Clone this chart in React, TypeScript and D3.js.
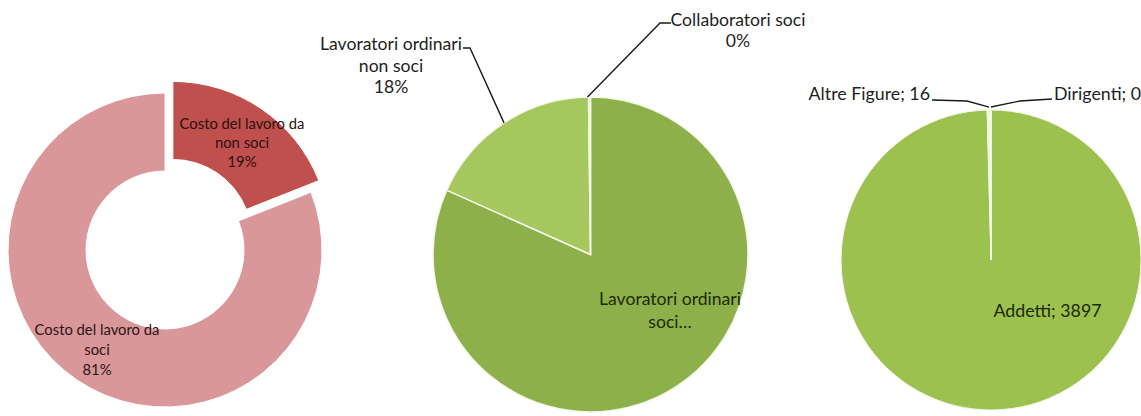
import React from "react";
import * as d3 from "d3";

// ---- Data ----
const costCategories = ["Costo del lavoro da non soci", "Costo del lavoro da soci"];
const costValues = [19, 81];
const costLabelLines = [["Costo del lavoro da", "non soci"], ["Costo del lavoro da", "soci"]];

const workerCategories = ["Lavoratori ordinari soci", "Lavoratori ordinari non soci", "Collaboratori soci"];
const workerValues = [81.7, 18.1, 0.2];
const workerLabelLines = [["Lavoratori ordinari", "soci…"], ["Lavoratori ordinari", "non soci"], ["Collaboratori soci"]];

const staffCategories = ["Addetti", "Altre Figure", "Dirigenti"];
const staffValues = [3897, 16, 0];

const FONT = "Lato, 'Open Sans', sans-serif";
const TXT = "#1e1e1e";

type Slice = d3.PieArcDatum<number>;

function pct(values: number[], i: number) {
  const tot = d3.sum(values);
  return Math.round((values[i] / tot) * 100) + "%";
}

function Lines({ x, y, lines, size, gap, fill = TXT, anchor = "middle" }: any) {
  return (
    <text x={x} y={y} fontFamily={FONT} fontSize={size} fill={fill} textAnchor={anchor}>
      {lines.map((l: string, i: number) => (
        <tspan key={i} x={x} dy={i === 0 ? 0 : gap}>
          {l}
        </tspan>
      ))}
    </text>
  );
}

export default function App() {
  const pie = d3.pie<number>().sort(null).startAngle(0).endAngle(2 * Math.PI);

  // Chart 1: donut
  const c1 = { cx: 165, cy: 250, R: 157, r: 79, explode: 14 };
  const costArcs = pie(costValues);
  const arc1 = d3.arc<Slice>().innerRadius(c1.r).outerRadius(c1.R);
  const costColors = ["#C0504D", "#D9979A"];

  // Chart 2: pie
  const c2 = { cx: 590.5, cy: 254.5, R: 157.5 };
  const workerArcs = pie(workerValues);
  const arc2 = d3.arc<Slice>().innerRadius(0).outerRadius(c2.R);
  const edge2 = d3.arc<Slice>().innerRadius(c2.R).outerRadius(c2.R);
  const workerColors = ["#8EB04A", "#A6C65E", "#EEF5DC"];

  // Chart 3: pie
  const c3 = { cx: 991, cy: 260, R: 150 };
  const staffArcs = pie(staffValues);
  const arc3 = d3.arc<Slice>().innerRadius(0).outerRadius(c3.R);
  const edge3 = d3.arc<Slice>().innerRadius(c3.R).outerRadius(c3.R);
  const staffColors = ["#9CC14F", "#EEF6DE", "#9CC14F"];

  const line = d3.line();

  const p2a = edge2.centroid(workerArcs[1]);
  const p2b = edge2.centroid(workerArcs[2]);
  const p3a = edge3.centroid(staffArcs[1]);
  const p3b = edge3.centroid(staffArcs[2]);

  return (
    <svg width={1141} height={416} style={{ position: "absolute", left: 0, top: 0, background: "#fff" }}>
      {/* Chart 1 */}
      <g transform={`translate(${c1.cx},${c1.cy})`}>
        {costArcs.map((d, i) => {
          const mid = (d.startAngle + d.endAngle) / 2;
          const off = i === 0 ? c1.explode : 0;
          const dx = Math.sin(mid) * off;
          const dy = -Math.cos(mid) * off;
          return (
            <path key={i} d={arc1(d) || ""} transform={`translate(${dx},${dy})`} fill={costColors[i]} stroke="#fff" strokeWidth={1} />
          );
        })}
      </g>
      <Lines x={242} y={129} size={14.8} gap={19} lines={[...costLabelLines[0], pct(costValues, 0)]} fill="#2a1010" />
      <Lines x={97} y={335} size={14.8} gap={20} lines={[...costLabelLines[1], pct(costValues, 1)]} fill="#2a1414" />

      {/* Chart 2 */}
      <g transform={`translate(${c2.cx},${c2.cy})`}>
        {workerArcs.map((d, i) => (
          <path key={i} d={arc2(d) || ""} fill={workerColors[i]} stroke="#f4f8ea" strokeWidth={1.5} />
        ))}
      </g>
      <path
        d={line([[c2.cx + p2a[0], c2.cy + p2a[1]], [470, 48], [463, 48]]) || ""}
        fill="none" stroke="#1a1a1a" strokeWidth={1.4}
      />
      <path
        d={line([[c2.cx + p2b[0] - 2, c2.cy + p2b[1]], [660, 23], [671, 23]]) || ""}
        fill="none" stroke="#1a1a1a" strokeWidth={1.4}
      />
      <Lines x={391} y={50} size={17.6} gap={21.5} lines={[...workerLabelLines[1], pct(workerValues, 1)]} />
      <Lines x={738} y={26} size={17.6} gap={21} lines={[...workerLabelLines[2], pct(workerValues, 2)]} />
      <Lines x={670} y={305} size={17.6} gap={23} lines={workerLabelLines[0]} fill="#1c2a08" />

      {/* Chart 3 */}
      <g transform={`translate(${c3.cx},${c3.cy})`}>
        {staffArcs.map((d, i) => (
          <path key={i} d={arc3(d) || ""} fill={staffColors[i]} stroke="#f4f8ea" strokeWidth={1} />
        ))}
      </g>
      <path
        d={line([[c3.cx + p3a[0], c3.cy + p3a[1] - 3], [967, 101], [932, 100]]) || ""}
        fill="none" stroke="#1a1a1a" strokeWidth={1.3}
      />
      <path
        d={line([[c3.cx + p3b[0], c3.cy + p3b[1] - 3], [1020, 101], [1052, 99]]) || ""}
        fill="none" stroke="#1a1a1a" strokeWidth={1.3}
      />
      <Lines x={930} y={100} size={17.8} gap={20} anchor="end" lines={[`${staffCategories[1]}; ${staffValues[1]}`]} />
      <Lines x={1054} y={100} size={17.8} gap={20} anchor="start" lines={[`${staffCategories[2]}; ${staffValues[2]}`]} />
      <Lines x={1047.5} y={317} size={17.8} gap={20} lines={[`${staffCategories[0]}; ${staffValues[0]}`]} fill="#1c2a08" />
    </svg>
  );
}
